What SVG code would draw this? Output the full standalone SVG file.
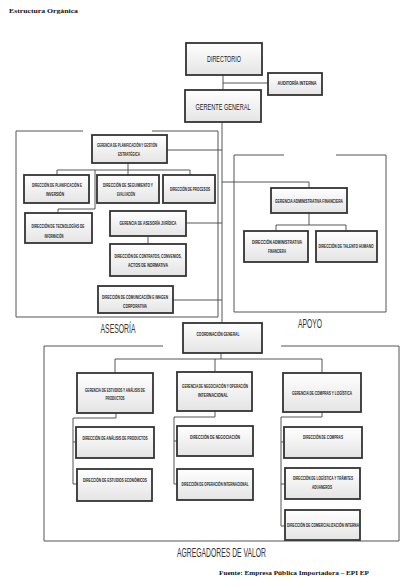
<svg xmlns="http://www.w3.org/2000/svg" width="410" height="586" viewBox="0 0 410 586">
<style>
.bx{fill:url(#g);stroke:#333;stroke-width:1.8}
.fr{fill:none;stroke:#555;stroke-width:1}
.cn{fill:none;stroke:#444;stroke-width:0.9}
.t{font-family:"Liberation Sans",Arial,sans-serif;font-weight:bold;font-size:4.5px;fill:#222;text-anchor:middle}
.tb{font-family:"Liberation Sans",Arial,sans-serif;font-size:9px;fill:#222;text-anchor:middle}
.lb{font-family:"Liberation Sans",Arial,sans-serif;font-size:13px;fill:#333;text-anchor:middle}
.sf{font-family:"Liberation Serif","Times New Roman",serif;font-weight:bold;font-size:7px;fill:#111}
</style>
<defs>
<linearGradient id="g" x1="0" y1="0" x2="0" y2="1">
<stop offset="0" stop-color="#ffffff"/>
<stop offset="1" stop-color="#e4e4e4"/>
</linearGradient>
</defs>
<rect width="410" height="586" fill="#fff"/>
<text class="sf" x="9" y="13" textLength="69" lengthAdjust="spacingAndGlyphs">Estructura Orgánica</text>

<g id="frames">
<path class="fr" d="M83,131 H16 V317 H218 V131 H152"/>
<path class="fr" d="M284,155 H234 V312 H386 V155 H336"/>
<path class="fr" d="M163,346 H44 V541 H399 V346 H281"/>
<text class="lb" x="118" y="333" textLength="35" lengthAdjust="spacingAndGlyphs">ASESORÍA</text>
<text class="lb" x="310" y="328" textLength="24" lengthAdjust="spacingAndGlyphs">APOYO</text>
<text class="lb" x="221.5" y="557" textLength="89" lengthAdjust="spacingAndGlyphs">AGREGADORES DE VALOR</text>
</g>

<g id="connectors">
<path class="cn" d="M223,75 V90 M223,83 H268"/>
<path class="cn" d="M222,122 V323"/>
<path class="cn" d="M167,150 H222 M186,223 H222 M173,300 H222"/>
<path class="cn" d="M222,182 H309 V188"/>
<path class="cn" d="M128,163 V175 M57,175 V170 H190 V175 M95,170 V209 H58 V213"/>
<path class="cn" d="M148,236 V244"/>
<path class="cn" d="M309,213 V225 M276,231 V225 H346 V231"/>
<path class="cn" d="M221,353 V359 M115,373 V359 H322 V373 M215,359 V372"/>
<path class="cn" d="M116,413 V418 H73 V484 H77 M73,442 H76"/>
<path class="cn" d="M215,411 V417 H174 V484 H177 M174,441 H177"/>
<path class="cn" d="M322,412 V417 H281 V526 H285 M281,442 H284 M281,484 H285"/>
</g>

<g id="directorio"><rect class="bx" x="186" y="43" width="76" height="32"/><text class="tb" x="224" y="62" textLength="34" lengthAdjust="spacingAndGlyphs">DIRECTORIO</text></g>
<g id="auditoria"><rect class="bx" x="268" y="73" width="54" height="22"/><text class="t" x="297" y="85" textLength="39" lengthAdjust="spacingAndGlyphs">AUDITORÍA INTERNA</text></g>
<g id="gerente"><rect class="bx" x="185" y="90" width="76" height="32"/><text class="tb" x="223" y="110" textLength="55" lengthAdjust="spacingAndGlyphs">GERENTE GENERAL</text></g>

<g id="g-planificacion"><rect class="bx" x="92" y="135" width="75" height="28"/><text class="t" x="127" y="147" textLength="60" lengthAdjust="spacingAndGlyphs">GERENCIA DE PLANIFICACIÓN Y GESTIÓN</text><text class="t" x="129" y="156" textLength="22" lengthAdjust="spacingAndGlyphs">ESTRATÉGICA</text></g>
<g id="d-planificacion"><rect class="bx" x="24" y="175" width="65" height="28"/><text class="t" x="57" y="187" textLength="50" lengthAdjust="spacingAndGlyphs">DIRECCIÓN DE PLANIFICACIÓN E</text><text class="t" x="55" y="196" textLength="18" lengthAdjust="spacingAndGlyphs">INVERSIÓN</text></g>
<g id="d-seguimiento"><rect class="bx" x="97" y="175" width="62" height="28"/><text class="t" x="128" y="187" textLength="50" lengthAdjust="spacingAndGlyphs">DIRECCIÓN DE SEGUIMIENTO Y</text><text class="t" x="126" y="196" textLength="18" lengthAdjust="spacingAndGlyphs">EVALUACIÓN</text></g>
<g id="d-procesos"><rect class="bx" x="163" y="175" width="52" height="28"/><text class="t" x="190" y="191" textLength="40" lengthAdjust="spacingAndGlyphs">DIRECCIÓN DE PROCESOS</text></g>
<g id="d-tecnologias"><rect class="bx" x="25" y="213" width="67" height="30"/><text class="t" x="58" y="228" textLength="53" lengthAdjust="spacingAndGlyphs">DIRECCIÓN DE TECNOLOGÍAS DE</text><text class="t" x="54" y="238" textLength="19" lengthAdjust="spacingAndGlyphs">INFORMACIÓN</text></g>
<g id="g-juridica"><rect class="bx" x="110" y="211" width="76" height="25"/><text class="t" x="148" y="225" textLength="57" lengthAdjust="spacingAndGlyphs">GERENCIA DE ASESORÍA JURÍDICA</text></g>
<g id="d-contratos"><rect class="bx" x="110" y="244" width="76" height="32"/><text class="t" x="148" y="258" textLength="67" lengthAdjust="spacingAndGlyphs">DIRECCIÓN DE CONTRATOS, CONVENIOS,</text><text class="t" x="148" y="267" textLength="40" lengthAdjust="spacingAndGlyphs">ACTOS DE NORMATIVA</text></g>
<g id="d-comunicacion"><rect class="bx" x="98" y="286" width="75" height="27"/><text class="t" x="135" y="299" textLength="66" lengthAdjust="spacingAndGlyphs">DIRECCIÓN DE COMUNICACIÓN E IMAGEN</text><text class="t" x="135" y="308" textLength="24" lengthAdjust="spacingAndGlyphs">CORPORATIVA</text></g>

<g id="g-administrativa"><rect class="bx" x="271" y="188" width="76" height="25"/><text class="t" x="309" y="203" textLength="68" lengthAdjust="spacingAndGlyphs">GERENCIA ADMINISTRATIVA FINANCIERA</text></g>
<g id="d-administrativa"><rect class="bx" x="244" y="231" width="64" height="31"/><text class="t" x="277" y="244" textLength="50" lengthAdjust="spacingAndGlyphs">DIRECCIÓN ADMINISTRATIVA</text><text class="t" x="277" y="253" textLength="18" lengthAdjust="spacingAndGlyphs">FINANCIERA</text></g>
<g id="d-talento"><rect class="bx" x="316" y="231" width="61" height="31"/><text class="t" x="346" y="248" textLength="55" lengthAdjust="spacingAndGlyphs">DIRECCIÓN DE TALENTO HUMANO</text></g>

<g id="coordinacion"><rect class="bx" x="183" y="323" width="79" height="30"/><text class="t" x="218" y="336" textLength="43" lengthAdjust="spacingAndGlyphs">COORDINACIÓN GENERAL</text></g>
<g id="g-estudios"><rect class="bx" x="77" y="373" width="76" height="40"/><text class="t" x="115" y="392" textLength="60" lengthAdjust="spacingAndGlyphs">GERENCIA DE ESTUDIOS Y ANÁLISIS DE</text><text class="t" x="115" y="400" textLength="19" lengthAdjust="spacingAndGlyphs">PRODUCTOS</text></g>
<g id="g-negociacion"><rect class="bx" x="177" y="372" width="75" height="39"/><text class="t" x="215" y="388" textLength="66" lengthAdjust="spacingAndGlyphs">GERENCIA DE NEGOCIACIÓN Y OPERACIÓN</text><text class="t" x="213" y="397" textLength="30" lengthAdjust="spacingAndGlyphs">INTERNACIONAL</text></g>
<g id="g-compras"><rect class="bx" x="283" y="373" width="78" height="39"/><text class="t" x="322" y="395" textLength="60" lengthAdjust="spacingAndGlyphs">GERENCIA DE COMPRAS Y LOGÍSTICA</text></g>
<g id="d-analisis"><rect class="bx" x="76" y="427" width="78" height="31"/><text class="t" x="115" y="440" textLength="65" lengthAdjust="spacingAndGlyphs">DIRECCIÓN DE ANÁLISIS DE PRODUCTOS</text></g>
<g id="d-estudios"><rect class="bx" x="77" y="469" width="75" height="32"/><text class="t" x="115" y="482" textLength="64" lengthAdjust="spacingAndGlyphs">DIRECCIÓN DE ESTUDIOS ECONÓMICOS</text></g>
<g id="d-negociacion"><rect class="bx" x="177" y="426" width="76" height="30"/><text class="t" x="215" y="439" textLength="50" lengthAdjust="spacingAndGlyphs">DIRECCIÓN DE NEGOCIACIÓN</text></g>
<g id="d-operacion"><rect class="bx" x="177" y="469" width="76" height="31"/><text class="t" x="215" y="486" textLength="67" lengthAdjust="spacingAndGlyphs">DIRECCIÓN DE OPERACIÓN INTERNACIONAL</text></g>
<g id="d-compras"><rect class="bx" x="284" y="427" width="78" height="31"/><text class="t" x="323" y="439" textLength="40" lengthAdjust="spacingAndGlyphs">DIRECCIÓN DE COMPRAS</text></g>
<g id="d-logistica"><rect class="bx" x="285" y="468" width="75" height="31"/><text class="t" x="323" y="480" textLength="60" lengthAdjust="spacingAndGlyphs">DIRECCIÓN DE LOGÍSTICA Y TRÁMITES</text><text class="t" x="322" y="489" textLength="20" lengthAdjust="spacingAndGlyphs">ADUANEROS</text></g>
<g id="d-comercializacion"><rect class="bx" x="285" y="510" width="75" height="30"/><text class="t" x="323" y="527" textLength="72" lengthAdjust="spacingAndGlyphs">DIRECCIÓN DE COMERCIALIZACIÓN INTERNA</text></g>

<text class="sf" x="219" y="575" textLength="150" lengthAdjust="spacingAndGlyphs">Fuente: Empresa Pública Importadora – EPI EP</text>
</svg>
